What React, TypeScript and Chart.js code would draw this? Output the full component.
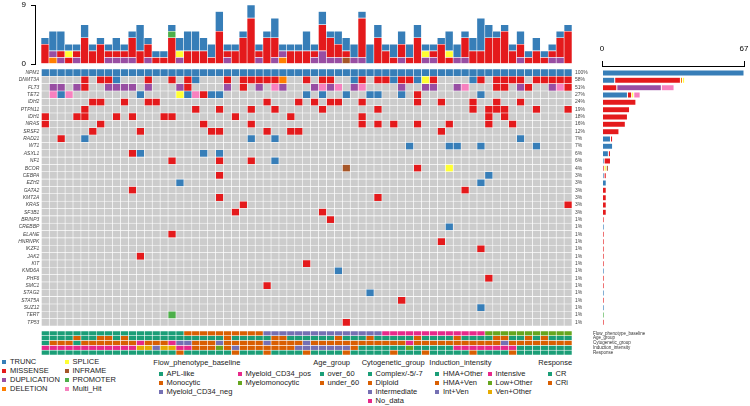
import React, { useEffect, useRef } from 'react';
import { Chart, registerables } from 'chart.js';
Chart.register(...registerables);

const FONT = '"Liberation Sans", Arial, sans-serif';
const N = 67;
const sampleIds = Array.from({ length: N }, (_, i) => `P${i + 1}`);

const genes = ['NPM1', 'DNMT3A', 'FLT3', 'TET2', 'IDH2', 'PTPN11', 'IDH1', 'NRAS', 'SRSF2', 'RAD21', 'WT1', 'ASXL1', 'NF1', 'BCOR', 'CEBPA', 'EZH2', 'GATA2', 'KMT2A', 'KRAS', 'SF3B1', 'BRINP3', 'CREBBP', 'ELANE', 'HNRNPK', 'IKZF1', 'JAK2', 'KIT', 'KMD6A', 'PHF6', 'SMC1', 'STAG2', 'STAT5A', 'SUZ12', 'TERT', 'TP53'];
const pctLabels = ['100%', '58%', '51%', '27%', '24%', '19%', '18%', '16%', '12%', '7%', '7%', '6%', '6%', '4%', '3%', '3%', '3%', '3%', '3%', '3%', '1%', '1%', '1%', '1%', '1%', '1%', '1%', '1%', '1%', '1%', '1%', '1%', '1%', '1%', '1%'];

// sample index + type code (T trunc, M missense, D duplication, L deletion, S splice, I inframe, P promoter, H multi-hit)
const geneMutations = [
  '0-66T',
  '5M,7M,8M,9T,13M,16M,18M,19T,23M,25M,26M,27M,28M,29M,30L,33M,35M,36M,39T,40M,42M,43M,44T,45M,46M,47T,48S,49M,54T,55M,57M,58M,59M,60M,62M,63M,64M,65M,66M',
  '1D,2D,4D,5M,8D,9D,10D,11D,13D,17D,18M,23D,25M,27D,29H,30D,34D,35H,36D,37H,39D,40H,45D,48D,49D,52D,53H,57M,58M,60D,61M,64D,65H,66M',
  '1H,2T,3H,12T,17S,18T,19H,20M,21T,22T,33T,35T,38T,41T,42T,45T,47M,55T',
  '6M,7M,10M,13M,14M,28M,32M,34M,36M,37M,40M,47M,50M,54M,57M,60M',
  '5M,19M,22M,26M,29M,35M,42M,54M,56M,57M,58M,62M,66M',
  '0M,4M,5M,9M,11M,15M,16M,24M,31M,40M,56M,58M',
  '0M,7M,20M,26M,40M,42M,44M,47M,51M,56M,59M',
  '6M,12M,21M,22M,28M,31M,32M,50M',
  '2M,5T,26T,29T,60T',
  '46T,51T,52T,55T,62T',
  '11M,12T,20T,22T',
  '16M,22M,26M,29T',
  '38I,47M,51S',
  '22M,56T',
  '17T,55T',
  '11M,53M',
  '22M,42M',
  '25M,66M',
  '24M,35M',
  '36M',
  '51T',
  '16M',
  '50M',
  '55M',
  '12M',
  '33M',
  '37T',
  '56M',
  '28M',
  '41T',
  '45M',
  '55T',
  '16P',
  '38M',
];

// top bar: number of alterations per sample, by type
const topTrunc = [1, 3, 3, 1, 1, 2, 1, 1, 1, 2, 1, 1, 4, 1, 1, 1, 1, 2, 3, 3, 2, 2, 3, 1, 1, 1, 2, 1, 1, 3, 1, 1, 1, 3, 1, 2, 1, 2, 2, 2, 1, 3, 2, 1, 2, 2, 2, 2, 1, 1, 1, 3, 2, 1, 2, 5, 2, 1, 1, 1, 2, 1, 2, 1, 1, 1, 1];
const topMissense = [3, 0, 1, 1, 1, 4, 2, 3, 1, 1, 1, 3, 2, 2, 1, 1, 4, 0, 2, 2, 2, 1, 5, 1, 2, 4, 7, 1, 4, 3, 0, 2, 2, 2, 1, 4, 3, 2, 1, 0, 6, 0, 4, 2, 1, 2, 1, 4, 0, 1, 3, 1, 0, 3, 2, 2, 4, 4, 5, 2, 2, 1, 2, 1, 1, 3, 5];
const topDup = [0, 1, 1, 0, 1, 0, 0, 0, 1, 1, 1, 1, 0, 1, 0, 0, 0, 1, 0, 0, 0, 0, 0, 1, 0, 0, 0, 1, 0, 1, 1, 0, 0, 0, 1, 2, 1, 1, 0, 1, 1, 0, 0, 0, 0, 1, 0, 0, 1, 1, 0, 0, 1, 1, 0, 0, 0, 0, 0, 0, 1, 0, 0, 0, 1, 1, 0];
const topDel = [0, 1, 0, 0, 0, 0, 0, 0, 0, 0, 0, 0, 0, 0, 0, 0, 0, 0, 0, 0, 0, 0, 0, 0, 0, 0, 0, 0, 0, 0, 1, 0, 0, 0, 0, 0, 0, 0, 0, 0, 0, 0, 0, 0, 0, 0, 0, 0, 0, 0, 0, 0, 0, 0, 0, 0, 0, 0, 0, 0, 0, 0, 0, 0, 0, 0, 0];
const topSplice = [0, 0, 0, 1, 0, 0, 0, 0, 0, 0, 0, 0, 0, 0, 0, 0, 0, 1, 0, 0, 0, 0, 0, 0, 0, 0, 0, 0, 0, 0, 0, 0, 0, 0, 0, 0, 0, 0, 0, 0, 0, 0, 0, 0, 0, 0, 0, 0, 1, 0, 0, 1, 0, 0, 0, 0, 0, 0, 0, 0, 0, 0, 0, 0, 0, 0, 0];
const topInframe = [0, 0, 0, 0, 0, 0, 0, 0, 0, 0, 0, 0, 0, 0, 0, 0, 0, 0, 0, 0, 0, 0, 0, 0, 0, 0, 0, 0, 0, 0, 0, 0, 0, 0, 0, 0, 0, 0, 1, 0, 0, 0, 0, 0, 0, 0, 0, 0, 0, 0, 0, 0, 0, 0, 0, 0, 0, 0, 0, 0, 0, 0, 0, 0, 0, 0, 0];
const topPromoter = [0, 0, 0, 0, 0, 0, 0, 0, 0, 0, 0, 0, 0, 0, 0, 0, 1, 0, 0, 0, 0, 0, 0, 0, 0, 0, 0, 0, 0, 0, 0, 0, 0, 0, 0, 0, 0, 0, 0, 0, 0, 0, 0, 0, 0, 0, 0, 0, 0, 0, 0, 0, 0, 0, 0, 0, 0, 0, 0, 0, 0, 0, 0, 0, 0, 0, 0];
const topMax = 9;
const rightMax = 67;

const typeCodes = ['T', 'M', 'D', 'L', 'S', 'I', 'P', 'H'];
const typeNames = ['TRUNC', 'MISSENSE', 'DUPLICATION', 'DELETION', 'SPLICE', 'INFRAME', 'PROMOTER', 'Multi_Hit'];
const typeColors = ['#377EB8', '#E41A1C', '#984EA3', '#FF7F00', '#FFFF33', '#A65628', '#4DAF4A', '#F781BF'];
const cellGray = '#CCCCCC';

// annotation tracks (category index per sample)
const trackNames = ['Flow_phenotype_baseline', 'Age_group', 'Cytogenetic_group', 'Induction_intensity', 'Response'];
const flowCats = ['APL-like', 'Monocytic', 'Myeloid_CD34_neg', 'Myeloid_CD34_pos', 'Myelomonocytic'];
const ageCats = ['over_60', 'under_60'];
const cytoCats = ['Complex/-5/-7', 'Diploid', 'Intermediate', 'No_data'];
const inductionCats = ['HMA+Other', 'HMA+Ven', 'Int+Ven', 'Intensive', 'Low+Other', 'Ven+Other'];
const responseCats = ['CR', 'CRi'];
const flowTrack = '0000000000000000001111111111222222222222222333333333333344444444444';
const ageTrack = '0000100110100000000000010000011000000100010000010000100001100101000';
const cytoTrack = '0111011111113111322111211111211112111111111111311111111111211111111';
const inductionTrack = '3333333333335525533111412111111122222221000000400000333333330000000';
const responseTrack = '0000000000000000010000001000100001000010000010001000001000010000000';
const dark2 = ['#1B9E77', '#D95F02', '#7570B3', '#E7298A', '#66A61E', '#E6AB02'];

function parseRow(spec: string): string[] {
  const row: string[] = Array(N).fill('');
  spec.split(',').filter(Boolean).forEach((tok) => {
    const m = tok.trim().match(/^(\d+)(?:-(\d+))?([A-Z])$/);
    if (!m) return;
    const a = +m[1];
    const b = m[2] ? +m[2] : a;
    for (let i = a; i <= b; i++) row[i] = m[3];
  });
  return row;
}

const colorOf = (code: string) => (code ? typeColors[typeCodes.indexOf(code)] : cellGray);

export default function App() {
  const topRef = useRef<HTMLCanvasElement>(null);
  const matRef = useRef<HTMLCanvasElement>(null);
  const rightRef = useRef<HTMLCanvasElement>(null);
  const annRef = useRef<HTMLCanvasElement>(null);

  useEffect(() => {
    const grid = geneMutations.map(parseRow);
    const charts: Chart[] = [];
    const noPlug = { legend: { display: false }, tooltip: { enabled: false } };

    // top stacked bars
    const topSeries: [string, number[]][] = [
      ['L', topDel], ['D', topDup], ['I', topInframe], ['M', topMissense], ['S', topSplice], ['P', topPromoter], ['T', topTrunc],
    ];
    charts.push(new Chart(topRef.current!, {
      type: 'bar',
      data: {
        datasets: topSeries.map(([code, arr]) => ({
          label: typeNames[typeCodes.indexOf(code)],
          data: arr.map((v, i) => ({ x: i, y: v > 0 ? v : null })) as any,
          backgroundColor: colorOf(code),
          borderColor: 'rgba(255,255,255,0.55)',
          borderWidth: 0.6,
          borderSkipped: false,
          categoryPercentage: 1,
          barPercentage: 1,
        })),
      },
      options: {
        responsive: false,
        animation: false,
        events: [],
        plugins: noPlug as any,
        layout: { padding: { top: 5, bottom: 2, right: 8, left: 0 } },
        scales: {
          x: { type: 'linear', min: -1.26, max: N - 0.5, display: false, stacked: true, offset: false },
          y: {
            stacked: true, min: 0, max: topMax,
            afterBuildTicks: (s: any) => { s.ticks = [{ value: 0 }, { value: topMax }]; },
            grid: { drawOnChartArea: false, drawTicks: true, tickLength: 4, color: '#000' },
            border: { display: true, color: '#000', width: 1 },
            ticks: { font: { size: 8, family: FONT }, color: '#000', padding: 5 },
            afterFit: (s: any) => { s.width = 35; s.paddingTop = 0; s.paddingBottom = 0; },
          },
        },
      } as any,
    }));

    // mutation matrix
    charts.push(new Chart(matRef.current!, {
      type: 'bar',
      data: {
        labels: genes,
        datasets: sampleIds.map((sid, i) => ({
          label: sid,
          data: genes.map(() => [i, i + 1]) as any,
          backgroundColor: grid.map((row) => colorOf(row[i])),
          borderColor: 'rgba(255,255,255,0.75)',
          borderWidth: 0.6,
          borderSkipped: false,
          grouped: false,
          categoryPercentage: 1,
          barPercentage: 1,
        })),
      },
      options: {
        indexAxis: 'y',
        responsive: false,
        animation: false,
        events: [],
        plugins: noPlug as any,
        layout: { padding: 0 },
        scales: {
          x: { type: 'linear', min: 0, max: N, display: false },
          y: {
            type: 'category', position: 'left', offset: true,
            grid: { display: false, drawTicks: false }, border: { display: false },
            ticks: { autoSkip: false, font: { size: 5, style: 'italic', family: FONT }, color: '#444', padding: 2 },
            afterFit: (s: any) => { s.width = 41.3; s.paddingTop = 0; s.paddingBottom = 0; },
          },
          y2: {
            type: 'category', position: 'right', labels: pctLabels, offset: true,
            grid: { display: false, drawTicks: false }, border: { display: false },
            ticks: { autoSkip: false, font: { size: 5, family: FONT }, color: '#444', padding: 3 },
            afterFit: (s: any) => { s.width = 28; s.paddingTop = 0; s.paddingBottom = 0; },
          },
        },
      } as any,
    }));

    // right barplot (counts per gene by type), rows on a linear axis so the bracket sits just above the first row
    const rightOrder = ['T', 'M', 'L', 'S', 'D', 'I', 'P', 'H'];
    charts.push(new Chart(rightRef.current!, {
      type: 'bar',
      data: {
        datasets: rightOrder.map((code) => ({
          label: typeNames[typeCodes.indexOf(code)],
          data: grid.map((row, r) => { const c = row.filter((v) => v === code).length; return { y: r, x: c > 0 ? c : null }; }) as any,
          backgroundColor: colorOf(code),
          borderColor: 'rgba(255,255,255,0.5)',
          borderWidth: 0.5,
          borderSkipped: false,
          categoryPercentage: 1,
          barPercentage: 0.82,
        })),
      },
      options: {
        indexAxis: 'y',
        responsive: false,
        animation: false,
        events: [],
        plugins: noPlug as any,
        layout: { padding: { left: 12, right: 6, top: 0, bottom: 4 } },
        scales: {
          x: {
            position: 'top', min: 0, max: rightMax, stacked: true,
            afterBuildTicks: (s: any) => { s.ticks = [{ value: 0 }, { value: rightMax }]; },
            grid: { drawOnChartArea: false, drawTicks: true, tickLength: 5, color: '#000' },
            border: { display: true, color: '#000', width: 1 },
            ticks: { font: { size: 8, family: FONT }, color: '#000', padding: 7, maxRotation: 0 },
            afterFit: (s: any) => { s.height = 31; s.paddingLeft = 0; s.paddingRight = 0; },
          },
          y: { type: 'linear', reverse: true, min: -0.95, max: genes.length - 0.5, stacked: true, display: false, offset: false },
        },
      } as any,
    }));

    // annotation tracks
    const tracks = [flowTrack, ageTrack, cytoTrack, inductionTrack, responseTrack].map((t) => t.split('').map(Number));
    charts.push(new Chart(annRef.current!, {
      type: 'bar',
      data: {
        labels: trackNames,
        datasets: sampleIds.map((sid, i) => ({
          label: sid,
          data: trackNames.map(() => [i, i + 1]) as any,
          backgroundColor: tracks.map((t) => dark2[t[i]]),
          borderColor: 'rgba(255,255,255,0.75)',
          borderWidth: 0.6,
          borderSkipped: false,
          grouped: false,
          categoryPercentage: 1,
          barPercentage: 1,
        })),
      },
      options: {
        indexAxis: 'y',
        responsive: false,
        animation: false,
        events: [],
        plugins: noPlug as any,
        layout: { padding: { left: 41.3, right: 0, top: 0, bottom: 0 } },
        scales: {
          x: { type: 'linear', min: 0, max: N, display: false },
          y: { type: 'category', display: false, offset: true },
          y2: {
            type: 'category', position: 'right', labels: trackNames, offset: true,
            grid: { display: false, drawTicks: false }, border: { display: false },
            ticks: { autoSkip: false, font: { size: 4.5, family: FONT }, color: '#333', padding: 21 },
            afterFit: (s: any) => { s.width = 78; s.paddingTop = 0; s.paddingBottom = 0; },
          },
        },
      } as any,
    }));

    return () => charts.forEach((c) => c.destroy());
  }, []);

  const txt = (x: number, y: number, text: string, key: string) => (
    <div key={key} style={{ position: 'absolute', left: x, top: y - 5, font: `7.5px ${FONT}`, lineHeight: '10px', whiteSpace: 'nowrap', color: '#222' }}>{text}</div>
  );
  const item = (x: number, y: number, color: string, text: string, key: string) => (
    <React.Fragment key={key}>
      <div style={{ position: 'absolute', left: x, top: y - 2, width: 4, height: 4, background: color }} />
      {txt(x + 8, y, text, key + 't')}
    </React.Fragment>
  );

  const legend: React.ReactNode[] = [];
  typeNames.forEach((n, i) => {
    const col = Math.floor(i / 4);
    legend.push(item(col === 0 ? 2 : 64.5, 362 + (i % 4) * 9, typeColors[i], n, 'm' + i));
  });
  legend.push(txt(153.3, 363, trackNames[0], 'tf'));
  flowCats.forEach((c, i) => legend.push(item(i < 3 ? 158.5 : 237.5, 374 + (i % 3) * 9, dark2[i], c, 'f' + i)));
  legend.push(txt(313.3, 363, trackNames[1], 'ta'));
  ageCats.forEach((c, i) => legend.push(item(319.5, 374 + i * 9, dark2[i], c, 'a' + i)));
  legend.push(txt(361.7, 363, trackNames[2], 'tc'));
  cytoCats.forEach((c, i) => legend.push(item(367.5, 374 + i * 9, dark2[i], c, 'c' + i)));
  legend.push(txt(429.3, 363, trackNames[3], 'ti'));
  inductionCats.forEach((c, i) => legend.push(item(i < 3 ? 435 : 487.5, 374 + (i % 3) * 9, dark2[i], c, 'i' + i)));
  legend.push(txt(538.3, 363, trackNames[4], 'tr'));
  responseCats.forEach((c, i) => legend.push(item(547.5, 374 + i * 9, dark2[i], c, 'r' + i)));

  return (
    <div style={{ position: 'absolute', left: 0, top: 0, width: 750, height: 406, background: '#fff', overflow: 'hidden' }}>
      <canvas ref={topRef} width={580} height={66} style={{ position: 'absolute', left: 0, top: 0 }} />
      <canvas ref={matRef} width={600} height={257} style={{ position: 'absolute', left: 0, top: 69 }} />
      <canvas ref={rightRef} width={160} height={295} style={{ position: 'absolute', left: 590, top: 35 }} />
      <canvas ref={annRef} width={650} height={24} style={{ position: 'absolute', left: 0, top: 331 }} />
      {legend}
    </div>
  );
}
